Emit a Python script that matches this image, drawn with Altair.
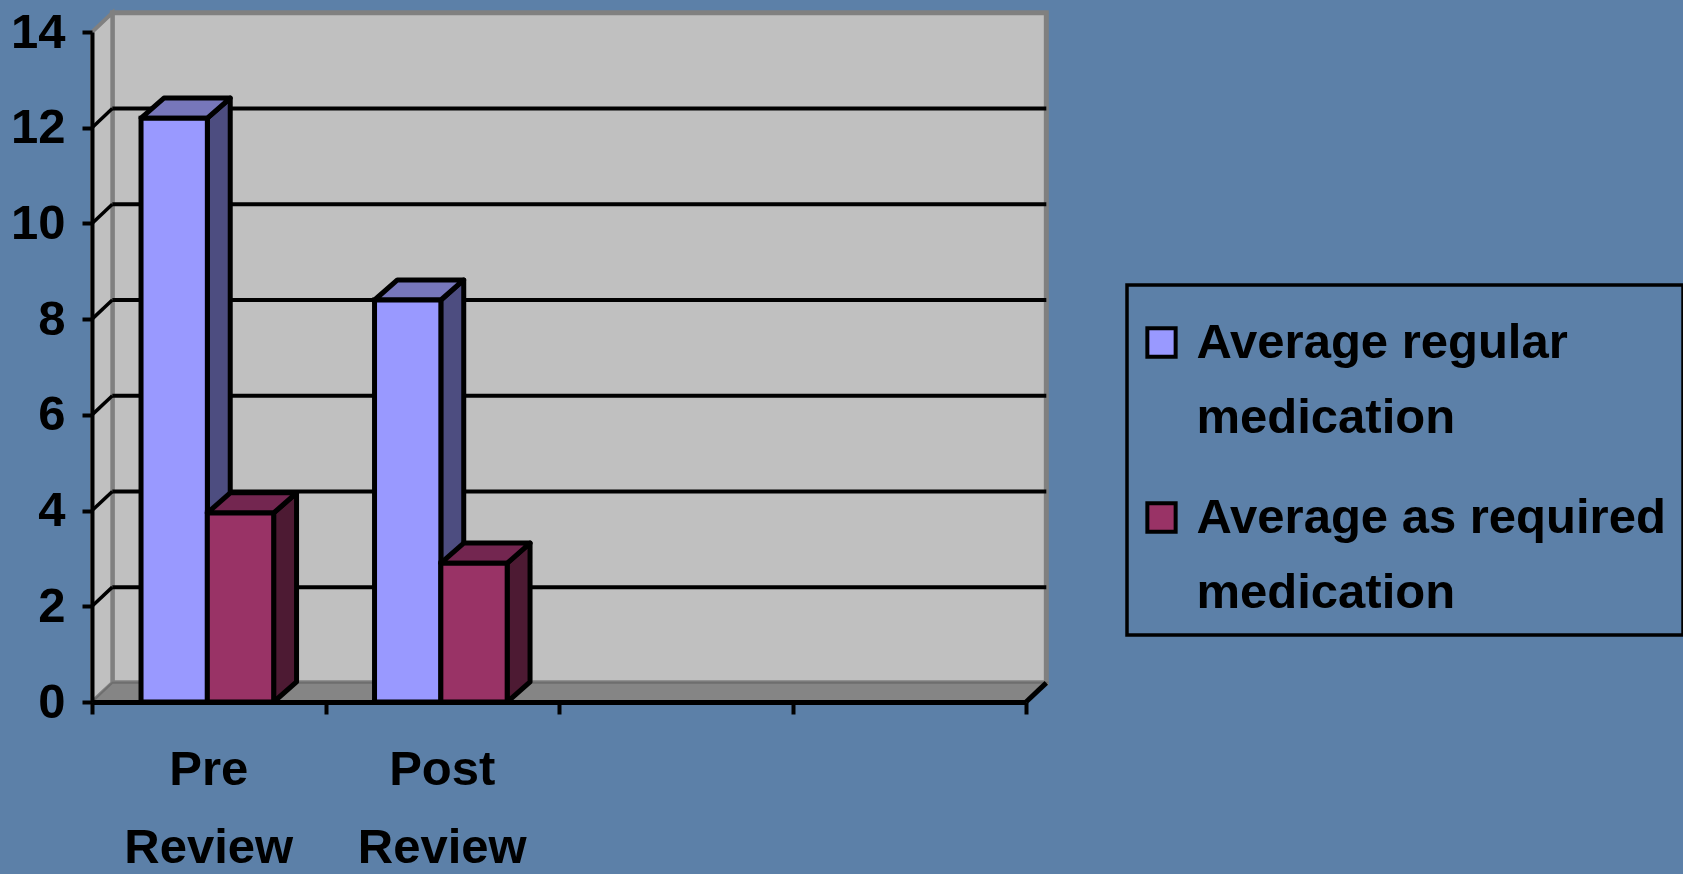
import altair as alt
import pandas as pd

categories = ["Pre\nReview", "Post\nReview"]
series_names = ["Average regular\nmedication", "Average as required\nmedication"]
regular = [12.2, 8.4]
as_required = [3.95, 2.9]
y_ticks = [0, 2, 4, 6, 8, 10, 12, 14]
grid_levels = [2, 4, 6, 8, 10, 12]

FONT = "Liberation Sans"
FONT_SIZE = 49
BG = "#5c80a8"
WALL = "#c0c0c0"
EDGE = "#808080"
FRONT = ["#9999ff", "#993366"]
SIDE = ["#4d4d80", "#4d1a33"]
TOP = ["#7777bb", "#732650"]

N_SLOTS = 4
BAR_W = 0.284
BAR_START = 0.21
# depth of the 3-D projection, in axis units
WALL_DX, WALL_DY = 0.087, 0.40
BAR_DX, BAR_DY = 0.098, 0.42

x_scale = alt.Scale(domain=[0, N_SLOTS], nice=False, zero=False)
y_scale = alt.Scale(domain=[0, 14], nice=False)

fronts, sides, tops = [], [], []
for c, _ in enumerate(categories):
    for s, vals in enumerate([regular, as_required]):
        v = vals[c]
        x0 = c + BAR_START + s * BAR_W
        x1 = x0 + BAR_W
        key = f"{c}-{s}"
        fronts.append(dict(x0=x0, x1=x1, v=v, series=series_names[s]))
        sides += [
            dict(x=x1, lo=0, hi=v, shade=SIDE[s], bar=key),
            dict(x=x1 + BAR_DX, lo=BAR_DY, hi=v + BAR_DY, shade=SIDE[s], bar=key),
        ]
        tops += [
            dict(y=v, a=x0, b=x1, shade=TOP[s], bar=key),
            dict(y=v + BAR_DY, a=x0 + BAR_DX, b=x1 + BAR_DX, shade=TOP[s], bar=key),
        ]
fronts, sides, tops = map(pd.DataFrame, (fronts, sides, tops))

X = alt.X("x:Q", scale=x_scale, title=None,
          axis=alt.Axis(values=list(range(N_SLOTS + 1)), labels=False, grid=False,
                        domainColor="black", domainWidth=5, tickColor="black",
                        tickWidth=4, tickSize=12, zindex=1))
Y = alt.Y("y:Q", scale=y_scale, title=None,
          axis=alt.Axis(values=y_ticks, grid=False, domainColor="black", domainWidth=4,
                        tickColor="black", tickWidth=4, tickSize=10, labelFont=FONT,
                        labelFontSize=FONT_SIZE, labelFontWeight="bold", labelColor="black",
                        labelPadding=17, zindex=1))

# back wall, side wall and floor of the 3-D box
wall = alt.Chart(pd.DataFrame([dict(x=WALL_DX, x2=N_SLOTS + WALL_DX, y=WALL_DY, y2=14 + WALL_DY)])).mark_rect(
    fill=WALL, stroke=EDGE, strokeWidth=5
).encode(x=X, x2="x2:Q", y=Y, y2="y2:Q")

side_wall = alt.Chart(pd.DataFrame([
    dict(x=0, lo=0, hi=14), dict(x=WALL_DX, lo=WALL_DY, hi=14 + WALL_DY)
])).mark_area(fill=WALL, stroke=EDGE, strokeWidth=4, opacity=1).encode(
    x=alt.X("x:Q", scale=x_scale), y=alt.Y("lo:Q", scale=y_scale), y2="hi:Q"
)

floor = alt.Chart(pd.DataFrame([
    dict(y=0, a=0, b=N_SLOTS), dict(y=WALL_DY, a=WALL_DX, b=N_SLOTS + WALL_DX)
])).mark_area(orient="horizontal", fill="#858585", stroke="#6e6e6e", strokeWidth=2, opacity=1).encode(
    y=alt.Y("y:Q", scale=y_scale), x=alt.X("a:Q", scale=x_scale), x2="b:Q"
)

grid = alt.Chart(pd.DataFrame({"y": grid_levels, "a": WALL_DX, "b": N_SLOTS + WALL_DX})).mark_rule(
    color="black", strokeWidth=4
).encode(y=alt.Y("y2:Q", scale=y_scale), x=alt.X("a:Q", scale=x_scale), x2="b:Q").transform_calculate(
    y2=f"datum.y + {WALL_DY}"
)

wall_ticks = pd.DataFrame(
    [dict(level=v, x=0, y=v) for v in grid_levels]
    + [dict(level=v, x=WALL_DX, y=v + WALL_DY) for v in grid_levels]
)
diagonals = alt.Chart(wall_ticks).mark_line(color="black", strokeWidth=3.5).encode(
    x=alt.X("x:Q", scale=x_scale), y=alt.Y("y:Q", scale=y_scale), detail="level:N"
)
corner = alt.Chart(pd.DataFrame([dict(x=N_SLOTS, y=0), dict(x=N_SLOTS + WALL_DX, y=WALL_DY)])).mark_line(
    color="black", strokeWidth=5
).encode(x=alt.X("x:Q", scale=x_scale), y=alt.Y("y:Q", scale=y_scale))

# an invisible layer carrying the two visible axes
axes = alt.Chart(pd.DataFrame({"x": [0], "y": [0]})).mark_point(opacity=0).encode(x=X, y=Y)

bars = []
for i in range(len(fronts)):
    key = f"{i // 2}-{i % 2}"
    bars.append(alt.Chart(sides[sides.bar == key]).mark_area(stroke="black", strokeWidth=5, opacity=1, strokeJoin="round").encode(
        x=alt.X("x:Q", scale=x_scale), y=alt.Y("lo:Q", scale=y_scale), y2="hi:Q",
        fill=alt.Fill("shade:N", scale=None)))
    bars.append(alt.Chart(tops[tops.bar == key]).mark_area(orient="horizontal", stroke="black", strokeWidth=5, opacity=1, strokeJoin="round").encode(
        y=alt.Y("y:Q", scale=y_scale), x=alt.X("a:Q", scale=x_scale), x2="b:Q",
        fill=alt.Fill("shade:N", scale=None)))
    bars.append(alt.Chart(fronts.iloc[[i]]).mark_rect(stroke="black", strokeWidth=5, strokeJoin="miter").encode(
        x=alt.X("x0:Q", scale=x_scale), x2="x1:Q",
        y=alt.Y("v:Q", scale=y_scale), y2=alt.datum(0),
        color=alt.Color("series:N", scale=alt.Scale(domain=series_names, range=FRONT),
                        legend=alt.Legend(title=" ", titleFontSize=2, titlePadding=14,
                                          orient="none", legendX=1035, legendY=253,
                                          labelExpr="split(datum.value, '\\n')",
                                          labelFont=FONT, labelFontSize=FONT_SIZE, labelFontWeight="bold",
                                          labelColor="black", labelLimit=0, labelOffset=10.5,
                                          symbolType="square", symbolSize=800, symbolOffset=-7,
                                          symbolStrokeColor="black", symbolStrokeWidth=4,
                                          strokeColor="black", padding=17,
                                          rowPadding=50))))

labels = alt.Chart(pd.DataFrame({"cat": categories, "x": [i + 0.5 for i in range(len(categories))]})).mark_text(
    font=FONT, fontSize=FONT_SIZE, fontWeight="bold", color="black", lineBreak="\n", lineHeight=78,
    align="center", baseline="alphabetic"
).encode(x=alt.X("x:Q", scale=x_scale), y=alt.value(753), text="cat:N")

chart = alt.layer(wall, side_wall, floor, grid, diagonals, corner, axes, *bars, labels).properties(
    width=934, height=670,
    padding={"left": 92, "top": 32, "right": 657, "bottom": 172},
    autosize=alt.AutoSizeParams(type="none"),
    background=BG,
).configure_view(stroke=None).configure_legend(strokeWidth=3.5)
chart.config.style = {"guide-label": {"lineHeight": 75}}

chart.save("out.html", embed_options={"renderer": "svg", "actions": False})
